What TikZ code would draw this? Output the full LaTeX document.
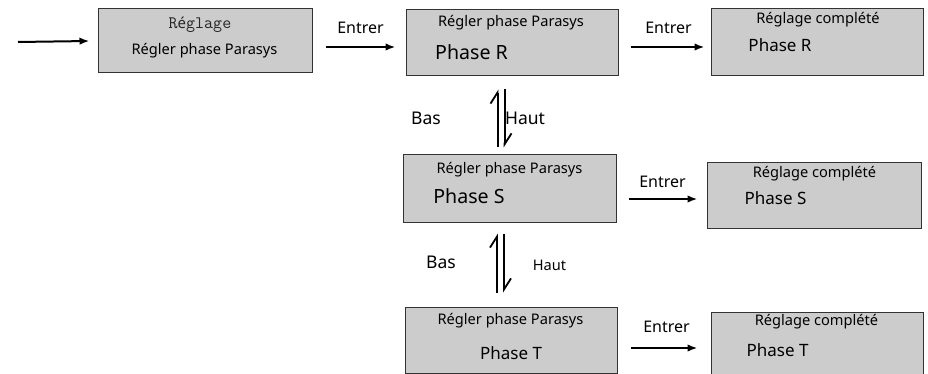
\documentclass[tikz,border=0pt]{standalone}
\usepackage{fontspec}
\setmainfont{Noto Sans}
\usetikzlibrary{arrows.meta}
\begin{document}
\begin{tikzpicture}[x=1pt,y=-1pt,
  box/.style={draw=black!80, fill=black!20, line width=1pt, inner sep=0pt},
  txt/.style={inner sep=0pt, anchor=center, font=\fontsize{14.6}{16}\selectfont},
  big/.style={inner sep=0pt, anchor=center, font=\fontsize{19.6}{22}\selectfont},
  mid/.style={inner sep=0pt, anchor=center, font=\fontsize{17}{19}\selectfont},
  lab/.style={inner sep=0pt, anchor=center, font=\fontsize{16}{18}\selectfont},
  lbl/.style={inner sep=0pt, anchor=center, font=\fontsize{17.5}{19}\selectfont},
  arr/.style={line width=2pt, -{Latex[length=10pt,width=7.5pt]}},
  harp/.style={line width=2pt, -{Straight Barb[left,length=11pt,width=14pt,line width=1.8pt]}}]
\useasboundingbox (0,0) rectangle (928,374);
\clip (0,0) rectangle (928,374);
% boxes
\node[box, minimum width=214pt, minimum height=64pt] (b1) at (205,41) {};
\node[box, minimum width=212pt, minimum height=66pt] (b2) at (512,43) {};
\node[box, minimum width=212pt, minimum height=67pt] (b3) at (817,42.5) {};
\node[box, minimum width=213pt, minimum height=67pt] (bS) at (509.5,188.5) {};
\node[box, minimum width=214pt, minimum height=65pt] (cS) at (814,195.5) {};
\node[box, minimum width=212pt, minimum height=66pt] (bT) at (511,340) {};
\node[box, minimum width=212pt, minimum height=68pt] (cT) at (817,346) {};
% texts
\node[inner sep=0pt, text=black!85, font=\fontsize{17.5}{19}\selectfont] (t1a) at (200,25) {{\ttfamily R}{\bfseries\fontsize{15}{17}\selectfont é}{\ttfamily glage}};
\node[txt] (t1b) at (204.5,51) {Régler phase Parasys};
\node[txt] (t2a) at (511,23) {Régler phase Parasys};
\node[big] (t2b) at (471.5,52) {Phase R};
\node[txt] (t3a) at (818,20) {Réglage complété};
\node[mid] (t3b) at (780,45) {Phase R};
\node[txt] (tSa) at (509.5,170) {Régler phase Parasys};
\node[big] (tSb) at (469,196) {Phase S};
\node[txt] (uSa) at (814.5,174) {Réglage complété};
\node[mid] (uSb) at (775.5,198) {Phase S};
\node[txt] (tTa) at (510.5,321) {Régler phase Parasys};
\node[mid] (tTb) at (511,353) {Phase T};
\node[txt] (uTa) at (816.5,322) {Réglage complété};
\node[mid] (uTb) at (777.5,350) {Phase T};
% labels
\node[lab] (e1) at (360.5,28) {Entrer};
\node[lab] (e2) at (668.5,28) {Entrer};
\node[lab] (eS) at (662.5,182) {Entrer};
\node[lab] (eT) at (666.5,327) {Entrer};
\node[lbl] (bas1) at (426,118) {Bas};
\node[lbl] (haut1) at (525,118) {Haut};
\node[lbl] (bas2) at (441,262) {Bas};
\node[txt] (haut2) at (549.5,265) {Haut};
% connectors
\coordinate (s0) at (18,42);
\draw[arr] (s0) -- ([xshift=-8pt]b1.west);
\draw[arr] ([shift={(13,6)}]b1.east) -- ([shift={(-10,4)}]b2.west);
\draw[arr] ([shift={(12,4)}]b2.east) -- ([shift={(-6,4.5)}]b3.west);
\draw[arr] ([shift={(12,10.5)}]bS.east) -- ([shift={(-9,3.5)}]cS.west);
\draw[arr] ([shift={(13,8)}]bT.east) -- ([shift={(-13,2)}]cT.west);
% double harpoons
\draw[harp] ([shift={(-12,-7)}]bS.north) -- ([shift={(-14.5,13)}]b2.south);
\draw[harp] ([shift={(-7.5,13)}]b2.south) -- ([shift={(-5,-7)}]bS.north);
\draw[harp] ([shift={(-14,-14)}]bT.north) -- ([shift={(-12.5,11)}]bS.south);
\draw[harp] ([shift={(-5.5,11)}]bS.south) -- ([shift={(-7,-14)}]bT.north);
\end{tikzpicture}
\end{document}
